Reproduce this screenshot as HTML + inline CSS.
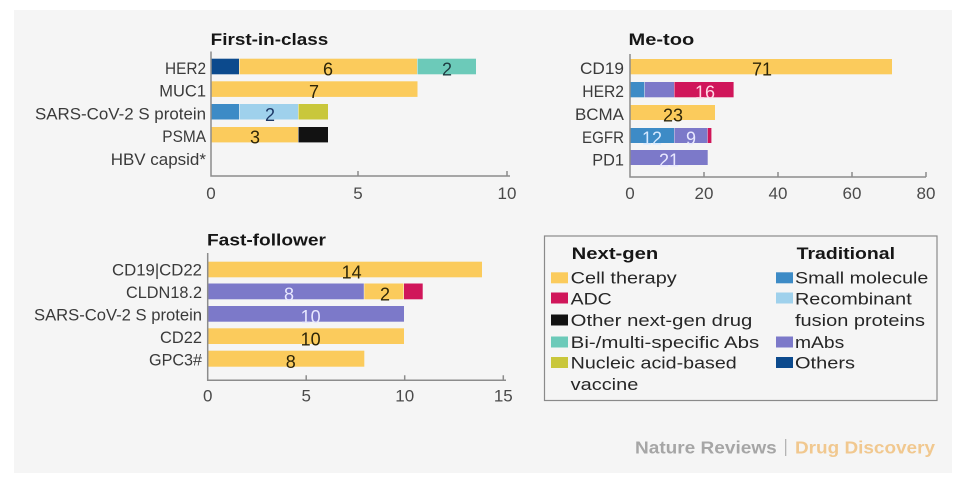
<!DOCTYPE html>
<html>
<head>
<meta charset="utf-8">
<style>
  html,body{margin:0;padding:0;background:#ffffff;}
  svg{display:block;}
  text{font-family:"Liberation Sans",sans-serif;}
  .lab{font-size:17px;fill:#3a3a3a;text-anchor:end;}
  .tit{font-size:17px;font-weight:bold;fill:#161616;}
  .tick{font-size:17px;fill:#4a4a4a;text-anchor:middle;}
  .val{font-size:18px;text-anchor:middle;}
  .dk{fill:#2e2608;}
  .lt{fill:#e8e8ff;}
  .leg{font-size:17px;fill:#262626;}
  .legh{font-size:17px;font-weight:bold;fill:#161616;}
  .ax{stroke:#8c8c8c;stroke-width:1.5;fill:none;}
</style>
</head>
<body>
<svg width="964" height="487" viewBox="0 0 964 487" xmlns="http://www.w3.org/2000/svg">
  <rect x="0" y="0" width="964" height="487" fill="#ffffff"/>
  <rect x="14" y="10" width="938" height="463" fill="#f5f5f5"/>

  <!-- ============ First-in-class ============ -->
  <text class="tit" x="210.7" y="45" textLength="117.6" lengthAdjust="spacingAndGlyphs">First-in-class</text>
  <text class="lab" x="206" y="74" textLength="41" lengthAdjust="spacingAndGlyphs">HER2</text>
  <text class="lab" x="206" y="96.5" textLength="46.7" lengthAdjust="spacingAndGlyphs">MUC1</text>
  <text class="lab" x="206" y="119.5" textLength="171" lengthAdjust="spacingAndGlyphs">SARS-CoV-2 S protein</text>
  <text class="lab" x="206" y="142" textLength="43.7" lengthAdjust="spacingAndGlyphs">PSMA</text>
  <text class="lab" x="206" y="165" textLength="95.3" lengthAdjust="spacingAndGlyphs">HBV capsid*</text>

  <!-- HER2 -->
  <rect x="211" y="58.7" width="28" height="15.6" fill="#0c4a8d"/>
  <rect x="239.5" y="58.7" width="177.5" height="15.6" fill="#fbcb5c"/>
  <rect x="417.5" y="58.7" width="58.5" height="15.6" fill="#6ccab9"/>
  <!-- MUC1 -->
  <rect x="211" y="81.3" width="206.5" height="15.6" fill="#fbcb5c"/>
  <!-- SARS -->
  <rect x="211" y="104" width="28" height="15.5" fill="#3d8bc6"/>
  <rect x="239.5" y="104" width="58.5" height="15.5" fill="#9fd1ec"/>
  <rect x="298.5" y="104" width="29.5" height="15.5" fill="#c9c73b"/>
  <!-- PSMA -->
  <rect x="211" y="127" width="87" height="15.4" fill="#fbcb5c"/>
  <rect x="298.5" y="127" width="29.5" height="15.4" fill="#121212"/>

  <text class="val dk" x="328" y="75.5">6</text>
  <text class="val" x="447" y="75.5" fill="#1d3b40">2</text>
  <text class="val dk" x="314" y="98">7</text>
  <text class="val" x="270" y="121" fill="#1d3866">2</text>
  <text class="val dk" x="255" y="143.5">3</text>

  <path class="ax" d="M211,51.5 V176 H510"/>
  <path class="ax" d="M358,176 V171 M507,176 V171"/>
  <text class="tick" x="211" y="199">0</text>
  <text class="tick" x="358" y="199">5</text>
  <text class="tick" x="507" y="199">10</text>

  <!-- ============ Me-too ============ -->
  <text class="tit" x="628.5" y="45" textLength="65.7" lengthAdjust="spacingAndGlyphs">Me-too</text>
  <text class="lab" x="624" y="74" textLength="44" lengthAdjust="spacingAndGlyphs">CD19</text>
  <text class="lab" x="624" y="97" textLength="41.7" lengthAdjust="spacingAndGlyphs">HER2</text>
  <text class="lab" x="624" y="120" textLength="49" lengthAdjust="spacingAndGlyphs">BCMA</text>
  <text class="lab" x="624" y="143" textLength="42" lengthAdjust="spacingAndGlyphs">EGFR</text>
  <text class="lab" x="624" y="165.5" textLength="31.7" lengthAdjust="spacingAndGlyphs">PD1</text>

  <rect x="630" y="59" width="262" height="15.3" fill="#fbcb5c"/>
  <rect x="630" y="82" width="14.3" height="15.3" fill="#3d8bc6"/>
  <rect x="644.8" y="82" width="29.2" height="15.3" fill="#7c79c9"/>
  <rect x="674.4" y="82" width="59.2" height="15.3" fill="#d0165a"/>
  <rect x="630" y="105" width="85" height="15" fill="#fbcb5c"/>
  <rect x="630" y="128" width="44" height="15" fill="#3d8bc6"/>
  <rect x="674.4" y="128" width="32.9" height="15" fill="#7c79c9"/>
  <rect x="707.7" y="128" width="3.7" height="15" fill="#d0165a"/>
  <rect x="630" y="150" width="77.7" height="15" fill="#7c79c9"/>

  <text class="val dk" x="762" y="75.5">71</text>
  <text class="val" x="705" y="98.5" fill="#ffd6e4">16</text>
  <text class="val dk" x="673" y="121.5">23</text>
  <text class="val" x="652" y="144.5" fill="#d6e9ff">12</text>
  <text class="val lt" x="691" y="144.5">9</text>
  <text class="val lt" x="669" y="166.5">21</text>

  <path class="ax" d="M630,54 V177 H926"/>
  <path class="ax" d="M704,177 V172 M778,177 V172 M852,177 V172 M926,177 V172"/>
  <text class="tick" x="630" y="199">0</text>
  <text class="tick" x="704" y="199">20</text>
  <text class="tick" x="778" y="199">40</text>
  <text class="tick" x="852" y="199">60</text>
  <text class="tick" x="926" y="199">80</text>

  <!-- ============ Fast-follower ============ -->
  <text class="tit" x="207" y="245.7" textLength="119" lengthAdjust="spacingAndGlyphs">Fast-follower</text>
  <text class="lab" x="202" y="275.5" textLength="90" lengthAdjust="spacingAndGlyphs">CD19|CD22</text>
  <text class="lab" x="202" y="298" textLength="76" lengthAdjust="spacingAndGlyphs">CLDN18.2</text>
  <text class="lab" x="202" y="320.5" textLength="168" lengthAdjust="spacingAndGlyphs">SARS-CoV-2 S protein</text>
  <text class="lab" x="202" y="343" textLength="42" lengthAdjust="spacingAndGlyphs">CD22</text>
  <text class="lab" x="202" y="365.5" textLength="53" lengthAdjust="spacingAndGlyphs">GPC3#</text>

  <rect x="207.7" y="261.7" width="274.3" height="15.6" fill="#fbcb5c"/>
  <rect x="207.7" y="283.5" width="156.1" height="15.8" fill="#7c79c9"/>
  <rect x="364.3" y="283.5" width="39.2" height="15.8" fill="#fbcb5c"/>
  <rect x="404" y="283.5" width="18.7" height="15.8" fill="#d0165a"/>
  <rect x="207.7" y="306" width="196.3" height="15.7" fill="#7c79c9"/>
  <rect x="207.7" y="328.3" width="196.3" height="15.7" fill="#fbcb5c"/>
  <rect x="207.7" y="350.7" width="156.6" height="16" fill="#fbcb5c"/>

  <text class="val dk" x="351.7" y="278.5">14</text>
  <text class="val lt" x="289" y="300.5">8</text>
  <text class="val dk" x="385" y="300.5">2</text>
  <text class="val lt" x="310.7" y="323">10</text>
  <text class="val dk" x="310.7" y="345.5">10</text>
  <text class="val dk" x="290.7" y="368">8</text>

  <path class="ax" d="M207.7,253 V380.3 H506"/>
  <path class="ax" d="M306.2,380.3 V375.3 M404.7,380.3 V375.3 M503.3,380.3 V375.3"/>
  <text class="tick" x="207.7" y="401.5">0</text>
  <text class="tick" x="306.2" y="401.5">5</text>
  <text class="tick" x="404.7" y="401.5">10</text>
  <text class="tick" x="503.3" y="401.5">15</text>

  <!-- ============ Legend ============ -->
  <rect x="544.5" y="236" width="392.5" height="164.5" fill="none" stroke="#8a8a8a" stroke-width="1.2"/>
  <text class="legh" x="571.7" y="259" textLength="86.6" lengthAdjust="spacingAndGlyphs">Next-gen</text>
  <text class="legh" x="796.7" y="259" textLength="98.3" lengthAdjust="spacingAndGlyphs">Traditional</text>

  <rect x="551" y="272.3" width="17" height="11" fill="#fbcb5c"/>
  <text class="leg" x="570.7" y="283.3" textLength="106" lengthAdjust="spacingAndGlyphs">Cell therapy</text>
  <rect x="551" y="292.5" width="17" height="11" fill="#d0165a"/>
  <text class="leg" x="570.7" y="304.5" textLength="41" lengthAdjust="spacingAndGlyphs">ADC</text>
  <rect x="551" y="314.5" width="17" height="11" fill="#121212"/>
  <text class="leg" x="570.7" y="326" textLength="181.6" lengthAdjust="spacingAndGlyphs">Other next-gen drug</text>
  <rect x="551" y="336.5" width="17" height="11" fill="#6ccab9"/>
  <text class="leg" x="570.7" y="348" textLength="188.6" lengthAdjust="spacingAndGlyphs">Bi-/multi-specific Abs</text>
  <rect x="551" y="357" width="17" height="11" fill="#c9c73b"/>
  <text class="leg" x="570.7" y="368.5" textLength="166" lengthAdjust="spacingAndGlyphs">Nucleic acid-based</text>
  <text class="leg" x="570.7" y="390" textLength="67.6" lengthAdjust="spacingAndGlyphs">vaccine</text>

  <rect x="776" y="272.3" width="17" height="11" fill="#3d8bc6"/>
  <text class="leg" x="795" y="283.3" textLength="133.3" lengthAdjust="spacingAndGlyphs">Small molecule</text>
  <rect x="776" y="292.5" width="17" height="11" fill="#9fd1ec"/>
  <text class="leg" x="795" y="304.5" textLength="116.7" lengthAdjust="spacingAndGlyphs">Recombinant</text>
  <text class="leg" x="795" y="326" textLength="130" lengthAdjust="spacingAndGlyphs">fusion proteins</text>
  <rect x="776" y="336.5" width="17" height="11" fill="#7c79c9"/>
  <text class="leg" x="795" y="348" textLength="49.3" lengthAdjust="spacingAndGlyphs">mAbs</text>
  <rect x="776" y="357" width="17" height="11" fill="#0c4a8d"/>
  <text class="leg" x="795" y="368.5" textLength="60" lengthAdjust="spacingAndGlyphs">Others</text>

  <!-- ============ Footer ============ -->
  <text x="635" y="453.3" font-size="17.5" font-weight="bold" fill="#a6a6a6" textLength="141.7" lengthAdjust="spacingAndGlyphs">Nature Reviews</text>
  <rect x="785" y="439" width="1.3" height="17" fill="#b4b4b4"/>
  <text x="795" y="453.3" font-size="17.5" font-weight="bold" fill="#f1c88f" textLength="140" lengthAdjust="spacingAndGlyphs">Drug Discovery</text>
</svg>
</body>
</html>
